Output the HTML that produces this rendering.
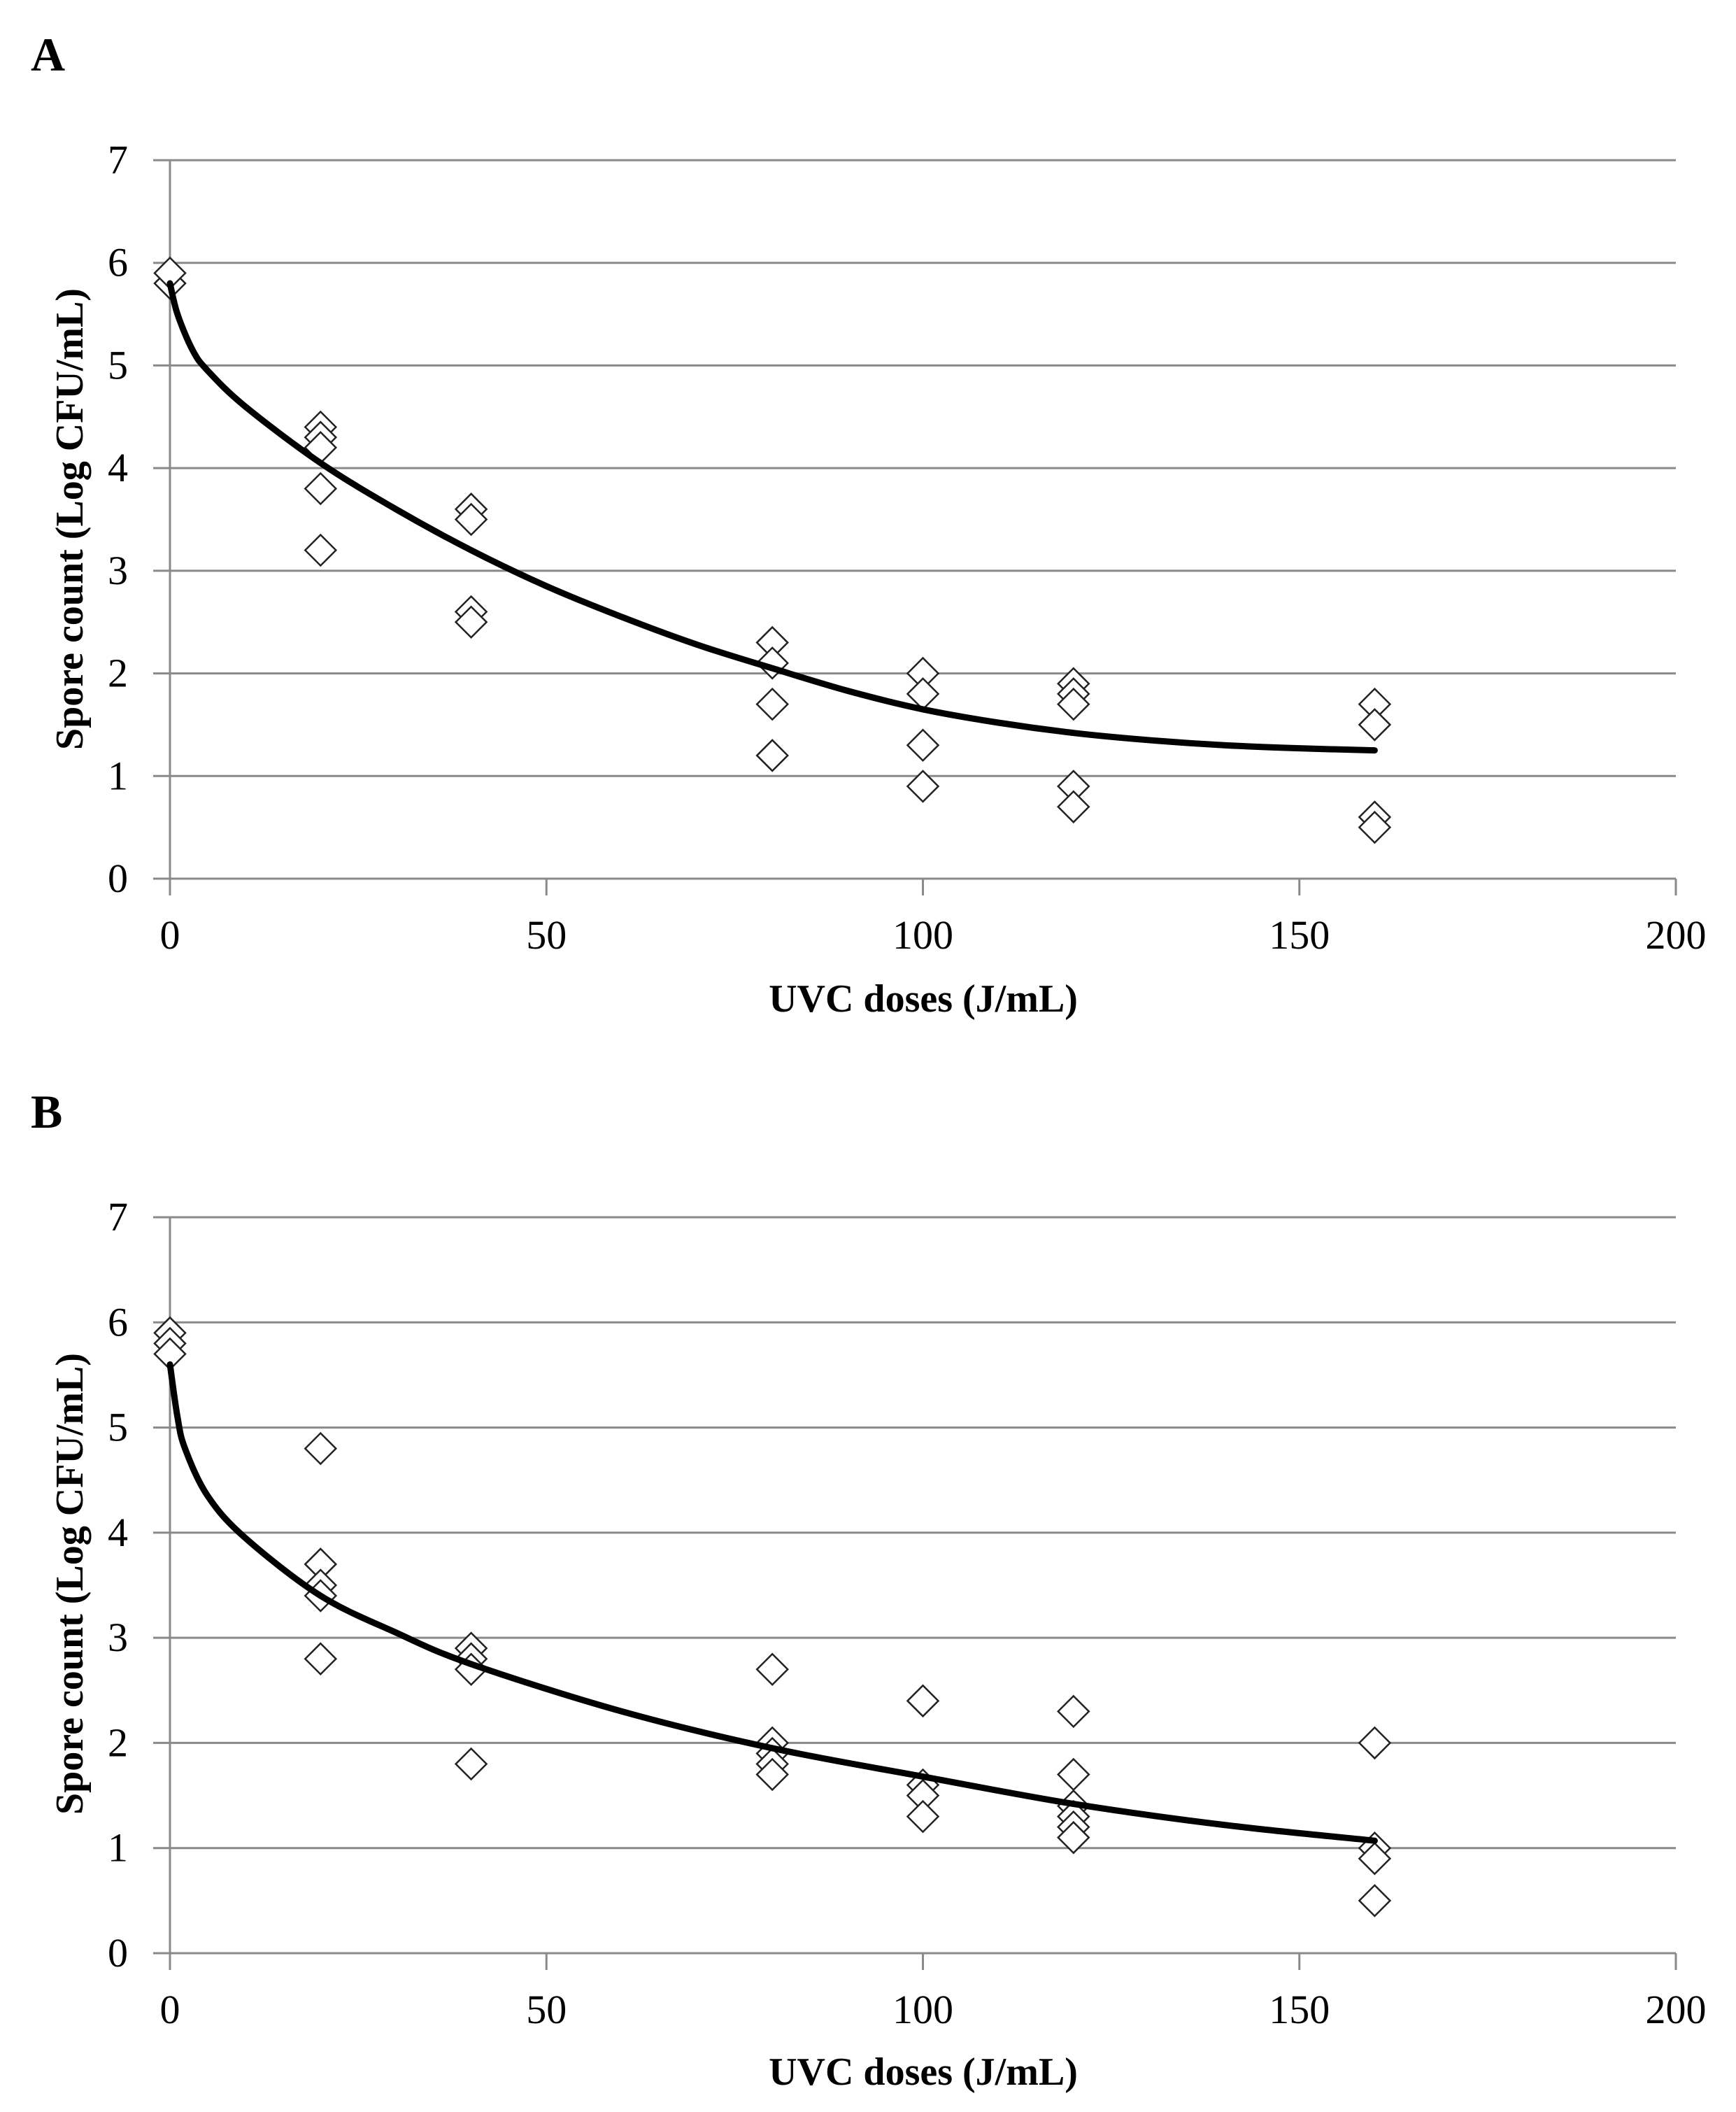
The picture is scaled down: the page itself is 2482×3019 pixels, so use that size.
<!DOCTYPE html>
<html><head><meta charset="utf-8"><style>
html,body{margin:0;padding:0;background:#fff;}
svg{display:block;}
text{font-family:"Liberation Serif",serif;fill:#000;}
</style></head><body>
<svg id="fig" width="2482" height="3019" viewBox="0 0 2482 3019" xmlns="http://www.w3.org/2000/svg"></svg>
<script>
const xTicks=[0,50,100,150,200];
const yTicks=[0,1,2,3,4,5,6,7];
const aPointX=[0,0,20,20,20,20,20,40,40,40,40,80,80,80,80,100,100,100,100,120,120,120,120,120,160,160,160,160];
const aPointY=[5.8,5.9,4.4,4.3,4.2,3.8,3.2,3.6,3.5,2.6,2.5,2.3,2.1,1.7,1.2,2.0,1.8,1.3,0.9,1.9,1.8,1.7,0.9,0.7,1.7,1.5,0.6,0.5];
const aCurveX=[0,1,3,5,10,20,30,40,50,60,70,80,90,100,110,120,130,140,150,160];
const aCurveY=[5.8,5.5,5.15,4.95,4.6,4.05,3.6,3.2,2.85,2.55,2.28,2.05,1.83,1.65,1.52,1.42,1.35,1.3,1.27,1.25];
const bPointX=[0,0,0,20,20,20,20,20,40,40,40,40,80,80,80,80,80,100,100,100,100,120,120,120,120,120,120,160,160,160,160];
const bPointY=[5.9,5.8,5.7,4.8,3.7,3.5,3.4,2.8,2.9,2.8,2.7,1.8,2.7,2.0,1.9,1.8,1.7,2.4,1.6,1.5,1.3,2.3,1.7,1.4,1.3,1.2,1.1,2.0,1.0,0.9,0.5];
const bCurveX=[0,1,2,5,10,20,30,40,60,80,100,120,140,160];
const bCurveY=[5.6,5.1,4.8,4.35,3.95,3.4,3.05,2.75,2.3,1.95,1.68,1.42,1.22,1.07];

const NS="http://www.w3.org/2000/svg";
const svg=document.getElementById('fig');
function mk(tag,attrs,parent){const e=document.createElementNS(NS,tag);for(const k in attrs)e.setAttribute(k,attrs[k]);(parent||svg).appendChild(e);return e;}

function panel(letter,top,bottom,px,py,cx,cy,titleY,yTitleY){
  const x0=243,x1=2396;
  const sx=v=>x0+(x1-x0)*v/200;
  const sy=v=>bottom-(bottom-top)*v/7;
  const g=mk('g',{});
  
  
  const lt=mk('text',{x:44,y:top-128,'font-size':68,'font-weight':'bold'},g);lt.textContent=letter;
  
  
  yTicks.forEach(v=>{
    const l=mk('line',{x1:219,x2:x1,y1:sy(v),y2:sy(v),stroke:'#8a8a8a','stroke-width':3},g);
    
    
    const t=mk('text',{x:183,y:sy(v)+19,'font-size':58,'text-anchor':'end'},g);t.textContent=v;
    
    
  });
  const ax=mk('line',{x1:x0,x2:x0,y1:top,y2:bottom+24,stroke:'#8a8a8a','stroke-width':3},g);
  
  
  xTicks.forEach(v=>{
    const l=mk('line',{x1:sx(v),x2:sx(v),y1:bottom,y2:bottom+24,stroke:'#8a8a8a','stroke-width':3},g);
    
    
    const t=mk('text',{x:sx(v),y:bottom+100,'font-size':58,'text-anchor':'middle'},g);t.textContent=v;
    
    
  });
  const xt=mk('text',{x:1320,y:titleY,'font-size':56,'font-weight':'bold','text-anchor':'middle'},g);xt.textContent='UVC doses (J/mL)';
  
  
  const yt=mk('text',{x:0,y:0,'font-size':56,'font-weight':'bold','text-anchor':'middle',transform:`translate(118,${yTitleY}) rotate(-90)`},g);yt.textContent='Spore count (Log CFU/mL)';
  
  
  px.forEach((x,i)=>{
    const X=sx(x),Y=sy(py[i]),r=22;
    const d=mk('polygon',{points:`${X-r},${Y} ${X},${Y-r} ${X+r},${Y} ${X},${Y+r}`,fill:'#fff',stroke:'#222','stroke-width':2.5},g);
    
    
  });
  const pts=cx.map((x,i)=>[sx(x),sy(cy[i])]);
  let dd='M'+pts[0][0]+','+pts[0][1];
  for(let i=0;i<pts.length-1;i++){
    const p0=pts[Math.max(0,i-1)],p1=pts[i],p2=pts[i+1],p3=pts[Math.min(pts.length-1,i+2)];
    const c1=[p1[0]+(p2[0]-p0[0])/6,p1[1]+(p2[1]-p0[1])/6],c2=[p2[0]-(p3[0]-p1[0])/6,p2[1]-(p3[1]-p1[1])/6];
    dd+=` C${c1[0]},${c1[1]} ${c2[0]},${c2[1]} ${p2[0]},${p2[1]}`;
  }
  const c=mk('path',{d:dd,fill:'none',stroke:'#000','stroke-width':9,'stroke-linecap':'round'},g);
  
  
}
panel('A',229,1256,aPointX,aPointY,aCurveX,aCurveY,1446,742);
panel('B',1740,2792,bPointX,bPointY,bCurveX,bCurveY,2980,2264);
</script>
</body></html>
